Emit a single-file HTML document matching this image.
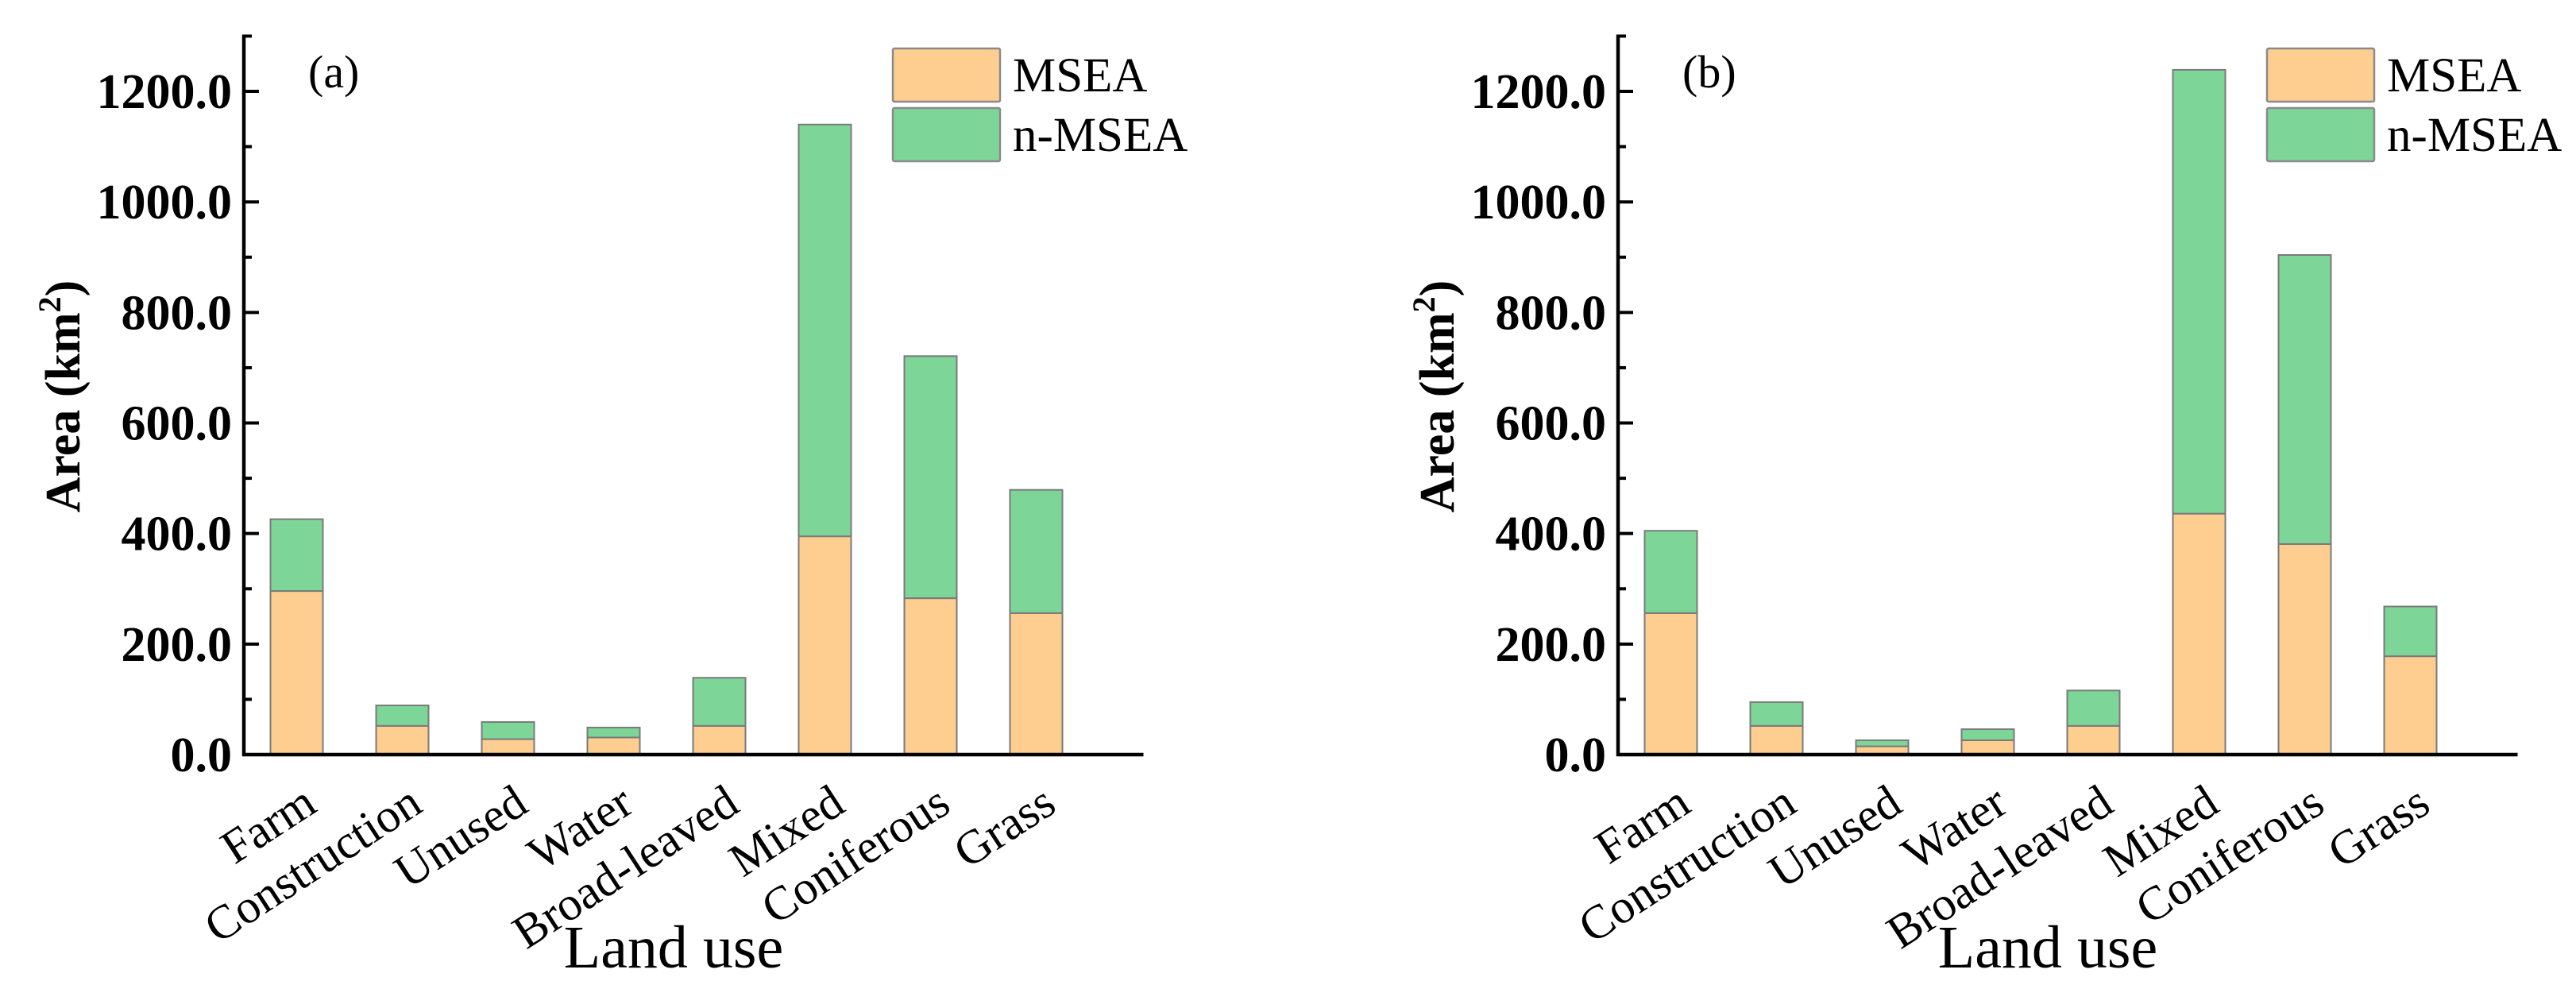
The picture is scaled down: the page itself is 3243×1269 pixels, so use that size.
<!DOCTYPE html>
<html>
<head>
<meta charset="utf-8">
<style>
  html,body{margin:0;padding:0;background:#fff;}
  svg{display:block;}
  text{font-family:"Liberation Serif",serif;fill:#000;}
</style>
</head>
<body>
<svg id="chart" width="3243" height="1269" viewBox="0 0 3243 1269" xmlns="http://www.w3.org/2000/svg"></svg>
<script>
const categories = ["Farm","Construction","Unused","Water","Broad-leaved","Mixed","Coniferous","Grass"];
const msseaA = [296, 52, 28, 31, 52, 395, 283, 256];
const totalA = [426, 89, 59, 49, 139, 1140, 721, 479];
const msseaB = [256, 52, 15, 26, 52, 436, 381, 178];
const totalB = [405, 95, 26, 46, 116, 1239, 904, 268];
const majorTicks = [0, 200, 400, 600, 800, 1000, 1200];
const minorTicks = [100, 300, 500, 700, 900, 1100, 1300];
const tickLabels = ["0.0","200.0","400.0","600.0","800.0","1000.0","1200.0"];
const panelLabels = ["(a)","(b)"];
const legendLabels = ["MSEA","n-MSEA"];

const NS = "http://www.w3.org/2000/svg";
const svg = document.getElementById("chart");
const ORANGE = "#FECD90", GREEN = "#7DD698", EDGE = "#7a7a7a";

function mk(tag, attrs, parent){
  const e = document.createElementNS(NS, tag);
  for (const k in attrs) e.setAttribute(k, attrs[k]);
  (parent||svg).appendChild(e);
  return e;
}

function drawPanel(offset, mssea, total, label, idx){
  const axX = 307 + offset, y0 = 950, k = 0.6958, step = 133, bw = 66;
  const yS = v => y0 - v * k;
  const xS = i => axX + step * (i + 0.5);
  const g = mk("g", {});
  
  

  categories.forEach((c, i) => {
    const xl = xS(i) - bw/2;
    const r1 = mk("rect", {x:xl, y:yS(mssea[i]), width:bw, height:yS(0)-yS(mssea[i]), fill:ORANGE, stroke:EDGE, "stroke-width":2}, g);
    
    
    const r2 = mk("rect", {x:xl, y:yS(total[i]), width:bw, height:yS(mssea[i])-yS(total[i]), fill:GREEN, stroke:EDGE, "stroke-width":2}, g);
    
    
  });

  const ya = mk("line", {x1:axX, y1:yS(1300)-2, x2:axX, y2:y0+2, stroke:"#000", "stroke-width":4.5}, g);
  
  
  const xa = mk("line", {x1:axX-2, y1:y0, x2:axX+step*8.5+2, y2:y0, stroke:"#000", "stroke-width":4.5}, g);
  
  

  majorTicks.forEach((v, i) => {
    const t = mk("line", {x1:axX, y1:yS(v), x2:axX+19, y2:yS(v), stroke:"#000", "stroke-width":4}, g);
    
    
    const tl = mk("text", {x:axX-15, y:yS(v)+21, "text-anchor":"end", "font-size":62, "font-weight":"bold"}, g);
    tl.textContent = tickLabels[i];
    
    
  });
  minorTicks.forEach(v => {
    const t = mk("line", {x1:axX, y1:yS(v), x2:axX+10, y2:yS(v), stroke:"#000", "stroke-width":4}, g);
    
    
  });

  categories.forEach((c, i) => {
    const ax = xS(i) + 28, ay = 1020;
    const t = mk("text", {x:ax, y:ay, "text-anchor":"end", "font-size":60, transform:"rotate(-33 "+ax+" "+ay+")"}, g);
    t.textContent = c;
    
    
  });

  const xt = mk("text", {x:848+offset, y:1218, "text-anchor":"middle", "font-size":76}, g);
  xt.textContent = "Land use";
  
  

  const ytx = 100 + offset, yty = 499;
  const yt = mk("text", {x:ytx, y:yty, "text-anchor":"middle", "font-size":62, "font-weight":"bold", transform:"rotate(-90 "+ytx+" "+yty+")"}, g);
  
  
  const s1 = mk("tspan", {}, yt); s1.textContent = "Area (km";
  const s2 = mk("tspan", {dy:-24, "font-size":40}, yt); s2.textContent = "2";
  const s3 = mk("tspan", {dy:24}, yt); s3.textContent = ")";

  const pl = mk("text", {x:388+offset, y:110, "font-size":58}, g);
  pl.textContent = label;
  
  

  const lx = 1124 + offset;
  [[61, ORANGE],[136, GREEN]].forEach((d, j) => {
    const r = mk("rect", {x:lx, y:d[0], width:135, height:67, fill:d[1], stroke:"#8a8a8a", "stroke-width":2.5, rx:2}, g);
    
    
    const t = mk("text", {x:1275+offset, y:d[0]+54, "font-size":61}, g);
    t.textContent = legendLabels[j];
    
    
  });
}

drawPanel(0, msseaA, totalA, panelLabels[0], 0);
drawPanel(1730, msseaB, totalB, panelLabels[1], 1);
</script>
</body>
</html>
